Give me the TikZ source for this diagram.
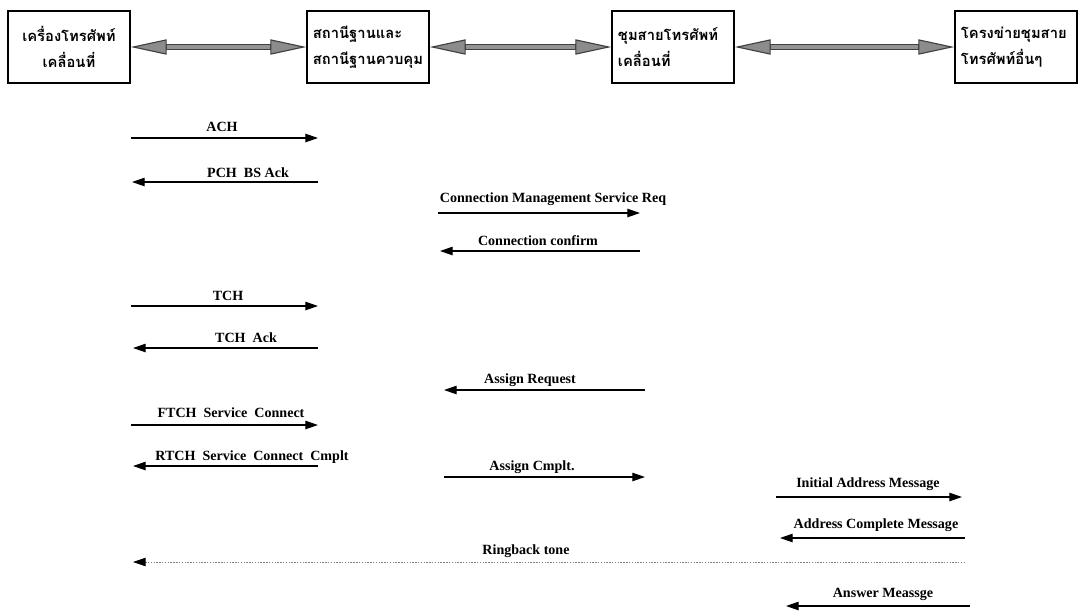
\documentclass[tikz,border=0pt]{standalone}
\usepackage{fontspec}
\setmainfont{Liberation Serif}
\newfontfamily\thaifont[Script=Thai]{Loma}
\usetikzlibrary{arrows.meta}

\tikzset{
	unitbox/.style={draw, line width=0.9pt, minimum width=3.05cm, minimum height=1.8cm, inner sep=0pt,
		font=\thaifont\bfseries\fontsize{10.5}{18.5}\selectfont},
	fatarrow/.style={line width=4.5pt, draw=black!75,
		{Triangle[length=0.9cm,width=0.38cm,line width=0.8pt,fill=black!45]}-{Triangle[length=0.9cm,width=0.38cm,line width=0.8pt,fill=black!45]}},
	fatcore/.style={line width=2.2pt, draw=black!42, shorten <=0.9cm, shorten >=0.9cm},
	msg/.style={line width=0.9pt, -{Triangle[length=9pt,width=6pt]}},
	ring/.style={line width=0.6pt, gray, dash pattern=on 1pt off 1pt, -{Triangle[length=9pt,width=6pt,color=black]}},
	lbl/.style={font=\bfseries\fontsize{10}{12}\selectfont, inner sep=1pt}
}

\begin{document}
\begin{tikzpicture}[x=0.025cm, y=-0.025cm]
		\useasboundingbox (0,0) rectangle (1085,614);
		% units
		\node[unitbox, align=center] (ms) at (69,47) {เครื่องโทรศัพท์\\เคลื่อนที่};
		\node[unitbox, align=left, text width=2.75cm] (bs) at (368,47) {สถานีฐานและ\\สถานีฐานควบคุม};
		\node[unitbox, align=left, text width=2.75cm] (msc) at (673,47) {ชุมสายโทรศัพท์\\เคลื่อนที่};
		\node[unitbox, align=left, text width=2.75cm] (net) at (1016,47) {โครงข่ายชุมสาย\\โทรศัพท์อื่นๆ};
		\foreach \a/\b in {ms/bs, bs/msc, msc/net}{
			\draw[fatarrow] (\a) -- (\b);
			\draw[fatcore] (\a) -- (\b);
		}
		% message ends
		\coordinate (ach0) at (131,138); \coordinate (ach1) at (318,138);
		\coordinate (pch0) at (318,182); \coordinate (pch1) at (132,182);
		\coordinate (cms0) at (438,213); \coordinate (cms1) at (640,213);
		\coordinate (cc0) at (640,251); \coordinate (cc1) at (440,251);
		\coordinate (tch0) at (131,306); \coordinate (tch1) at (318,306);
		\coordinate (tack0) at (318,348); \coordinate (tack1) at (133,348);
		\coordinate (ar0) at (645,390); \coordinate (ar1) at (444,390);
		\coordinate (ftch0) at (131,425); \coordinate (ftch1) at (318,425);
		\coordinate (rtch0) at (318,466); \coordinate (rtch1) at (133,466);
		\coordinate (acp0) at (444,477); \coordinate (acp1) at (645,477);
		\coordinate (iam0) at (776,497); \coordinate (iam1) at (962,497);
		\coordinate (acm0) at (965,538); \coordinate (acm1) at (780,538);
		\coordinate (rbt0) at (965,562); \coordinate (rbt1) at (133,562);
		\coordinate (anm0) at (970,606); \coordinate (anm1) at (786,606);
		% messages
		\draw[msg] (ach0) -- (ach1);
		\draw[msg] (pch0) -- (pch1);
		\draw[msg] (cms0) -- (cms1);
		\draw[msg] (cc0) -- (cc1);
		\draw[msg] (tch0) -- (tch1);
		\draw[msg] (tack0) -- (tack1);
		\draw[msg] (ar0) -- (ar1);
		\draw[msg] (ftch0) -- (ftch1);
		\draw[msg] (rtch0) -- (rtch1);
		\draw[msg] (acp0) -- (acp1);
		\draw[msg] (iam0) -- (iam1);
		\draw[msg] (acm0) -- (acm1);
		\draw[ring] (rbt0) -- (rbt1);
		\draw[msg] (anm0) -- (anm1);
		% labels
		\node[lbl] (l-ach) at (222,127) {ACH};
		\node[lbl] (l-pch) at (248,173) {PCH\ \ BS Ack};
		\node[lbl] (l-cms) at (553,199) {Connection Management Service Req};
		\node[lbl] (l-cc) at (538,241) {Connection confirm};
		\node[lbl] (l-tch) at (228,296) {TCH};
		\node[lbl] (l-tack) at (246,338) {TCH\ \ Ack};
		\node[lbl] (l-ar) at (530,380) {Assign Request};
		\node[lbl] (l-ftch) at (231,413) {FTCH\ \ Service\ \ Connect};
		\node[lbl] (l-rtch) at (252,457) {RTCH\ \ Service\ \ Connect\ \ Cmplt};
		\node[lbl] (l-acp) at (532,467) {Assign Cmplt.};
		\node[lbl] (l-iam) at (868,484) {Initial Address Message};
		\node[lbl] (l-acm) at (876,525) {Address Complete Message};
		\node[lbl] (l-rbt) at (526,551) {Ringback tone};
		\node[lbl] (l-anm) at (883,594) {Answer Meassge};
\end{tikzpicture}
\end{document}
